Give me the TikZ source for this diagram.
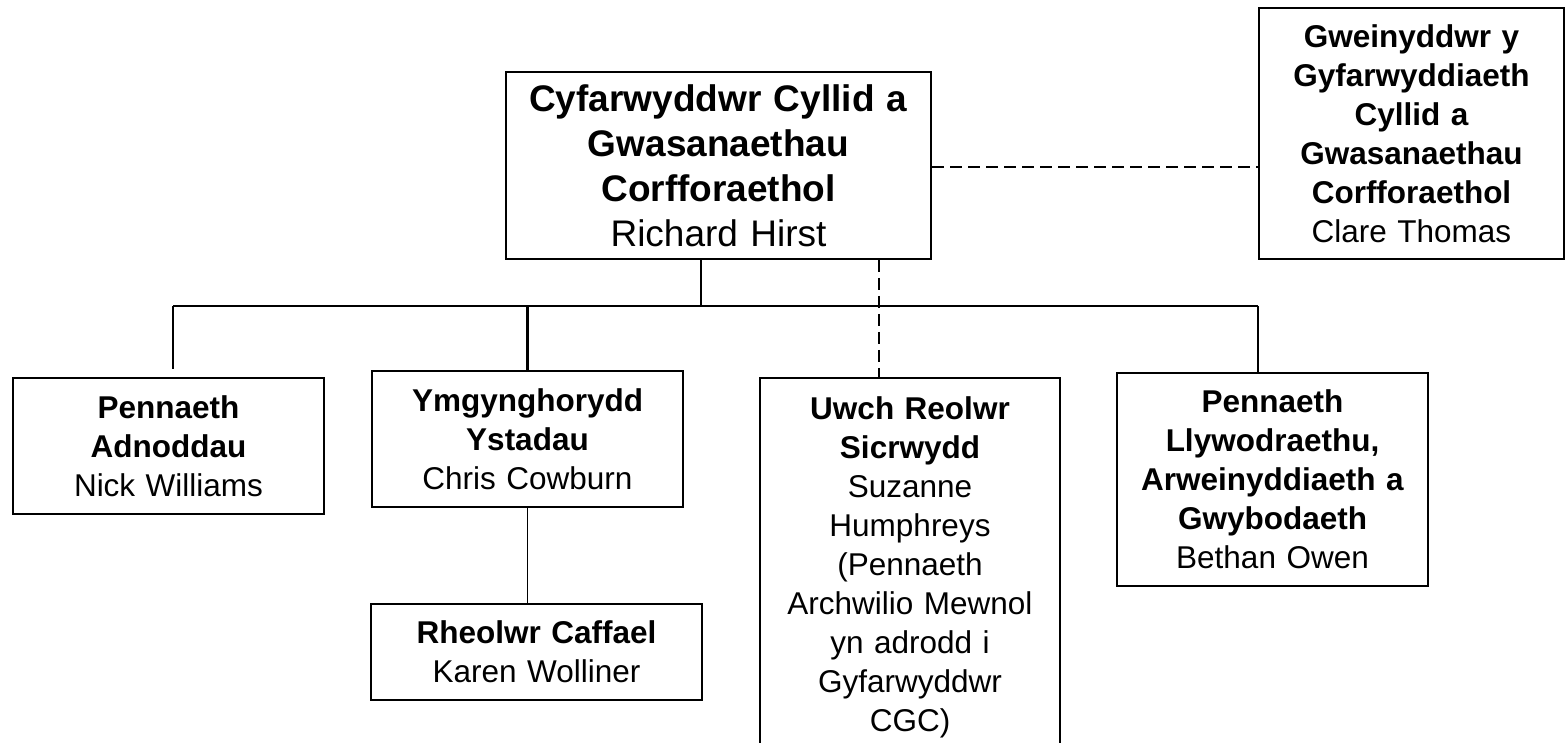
\documentclass[tikz,border=0pt]{standalone}
\usepackage{fontspec}
\setmainfont{Liberation Sans}
\begin{document}
\begin{tikzpicture}[x=0.5pt,y=-0.5pt,
  orgbox/.style={draw, line width=1pt, align=center, inner sep=0pt, anchor=north west,
    font=\fontsize{15.75}{19.5}\selectfont},
  topfont/.style={font=\fontsize{18.5}{22.5}\selectfont},
  solidlink/.style={line width=1.4pt},
  buslink/.style={line width=1pt},
  thinlink/.style={line width=0.75pt},
  dashlink/.style={line width=1pt, dash pattern=on 6pt off 3pt}]
\useasboundingbox (0,0) rectangle (1565,743);
\fill[white] (0,0) rectangle (1565,743);
\clip (0,0) rectangle (1565,743);

\node[orgbox, topfont, minimum width=212.5pt, minimum height=93.5pt, text width=212.5pt] (dir) at (505,71)
  {\textbf{Cyfarwyddwr Cyllid a}\\\textbf{Gwasanaethau}\\\textbf{Corfforaethol}\\Richard Hirst};
\node[orgbox, minimum width=152.5pt, minimum height=125.5pt, text width=152.5pt] (min) at (1258,7)
  {\textbf{Gweinyddwr y}\\\textbf{Gyfarwyddiaeth}\\\textbf{Cyllid a}\\\textbf{Gwasanaethau}\\\textbf{Corfforaethol}\\Clare Thomas};
\node[orgbox, minimum width=155.5pt, minimum height=68pt, text width=155.5pt] (adn) at (12,377)
  {\textbf{Pennaeth}\\\textbf{Adnoddau}\\Nick Williams};
\node[orgbox, minimum width=155.5pt, minimum height=68pt, text width=155.5pt] (yst) at (371,370)
  {\textbf{Ymgynghorydd}\\\textbf{Ystadau}\\Chris Cowburn};
\node[orgbox, minimum width=165.5pt, minimum height=48pt, text width=165.5pt] (caf) at (370,603)
  {\textbf{Rheolwr Caffael}\\Karen Wolliner};
\node[orgbox, minimum width=150pt, minimum height=189pt, text width=150pt] (sic) at (759,377)
  {\textbf{Uwch Reolwr}\\\textbf{Sicrwydd}\\Suzanne\\Humphreys\\(Pennaeth\\Archwilio Mewnol\\yn adrodd i\\Gyfarwyddwr\\CGC)};
\node[orgbox, minimum width=155.5pt, minimum height=106.5pt, text width=155.5pt] (llyw) at (1116,372)
  {\textbf{Pennaeth}\\\textbf{Llywodraethu,}\\\textbf{Arweinyddiaeth a}\\\textbf{Gwybodaeth}\\Bethan Owen};

\coordinate (bus) at (701,306);
\coordinate (busL) at (173,306);
\coordinate (busR) at (1258,306);
\coordinate (dashx) at (879,0);
\coordinate (dashy) at (0,167);

\draw[dashlink] (dir.east |- dashy) -- (min.west |- dashy);
\draw[solidlink] (bus |- dir.south) -- (bus);
\draw[buslink] (busL) -- (busR);
\draw[solidlink] (busL) -- ([yshift=4pt]busL |- adn.north);
\draw[solidlink] (yst.north |- busL) -- (yst.north);
\draw[solidlink] (busR) -- (busR |- llyw.north);
\draw[dashlink] (dashx |- dir.south) -- (dashx |- sic.north);
\draw[thinlink] (yst.south) -- (yst.south |- caf.north);
\end{tikzpicture}
\end{document}
